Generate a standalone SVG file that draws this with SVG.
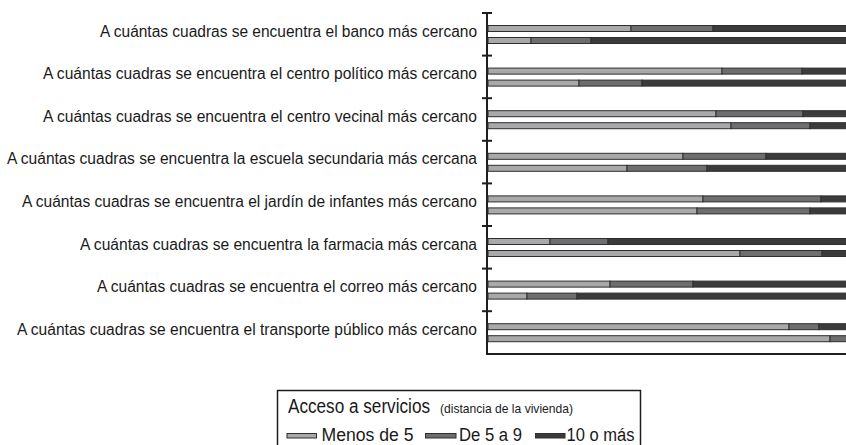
<svg xmlns="http://www.w3.org/2000/svg" width="846" height="445" viewBox="0 0 846 445">
<style>
.lbl{font-family:"Liberation Sans",Arial,sans-serif;font-size:16px;fill:#1a1a1a;text-anchor:end}
.s1{fill:#a9a9ab;stroke:#2e2e2e;stroke-width:1}
.s2{fill:#6e6e71;stroke:#2e2e2e;stroke-width:1}
.s3{fill:#3b3b3b;stroke:#2e2e2e;stroke-width:1}
.ax{stroke:#1e1e1e;stroke-width:2;fill:none}
.lg{font-family:"Liberation Sans",Arial,sans-serif;fill:#1a1a1a}
</style>
<rect width="846" height="445" fill="#ffffff"/>
<g id="axis">
<line class="ax" x1="487" y1="12" x2="487" y2="354"/>
<line class="ax" x1="486" y1="354" x2="846" y2="354"/>
<line class="ax" x1="482" y1="13" x2="492" y2="13"/>
<line class="ax" x1="482" y1="55.6" x2="492" y2="55.6"/>
<line class="ax" x1="482" y1="98.2" x2="492" y2="98.2"/>
<line class="ax" x1="482" y1="140.8" x2="492" y2="140.8"/>
<line class="ax" x1="482" y1="183.4" x2="492" y2="183.4"/>
<line class="ax" x1="482" y1="226" x2="492" y2="226"/>
<line class="ax" x1="482" y1="268.6" x2="492" y2="268.6"/>
<line class="ax" x1="482" y1="311.2" x2="492" y2="311.2"/>
</g>
<g id="banco" transform="translate(0,13)">
<text class="lbl" x="477" y="23.7" textLength="377" lengthAdjust="spacingAndGlyphs">A cuántas cuadras se encuentra el banco más cercano</text>
<rect class="s1" x="488" y="12.5" width="143" height="6"/><rect class="s2" x="631" y="12.5" width="82" height="6"/><rect class="s3" x="713" y="12.5" width="140" height="6"/>
<rect class="s1" x="488" y="24.5" width="43" height="6"/><rect class="s2" x="531" y="24.5" width="60" height="6"/><rect class="s3" x="591" y="24.5" width="262" height="6"/>
</g>
<g id="centro-politico" transform="translate(0,55.6)">
<text class="lbl" x="477" y="23.7" textLength="434" lengthAdjust="spacingAndGlyphs">A cuántas cuadras se encuentra el centro político más cercano</text>
<rect class="s1" x="488" y="12.5" width="234" height="6"/><rect class="s2" x="722" y="12.5" width="80" height="6"/><rect class="s3" x="802" y="12.5" width="51" height="6"/>
<rect class="s1" x="488" y="24.5" width="91" height="6"/><rect class="s2" x="579" y="24.5" width="63" height="6"/><rect class="s3" x="642" y="24.5" width="211" height="6"/>
</g>
<g id="centro-vecinal" transform="translate(0,98.2)">
<text class="lbl" x="477" y="23.7" textLength="434" lengthAdjust="spacingAndGlyphs">A cuántas cuadras se encuentra el centro vecinal más cercano</text>
<rect class="s1" x="488" y="12.5" width="228" height="6"/><rect class="s2" x="716" y="12.5" width="87" height="6"/><rect class="s3" x="803" y="12.5" width="50" height="6"/>
<rect class="s1" x="488" y="24.5" width="243" height="6"/><rect class="s2" x="731" y="24.5" width="79" height="6"/><rect class="s3" x="810" y="24.5" width="43" height="6"/>
</g>
<g id="escuela" transform="translate(0,140.8)">
<text class="lbl" x="477" y="23.7" textLength="470" lengthAdjust="spacingAndGlyphs">A cuántas cuadras se encuentra la escuela secundaria más cercana</text>
<rect class="s1" x="488" y="12.5" width="195" height="6"/><rect class="s2" x="683" y="12.5" width="83" height="6"/><rect class="s3" x="766" y="12.5" width="87" height="6"/>
<rect class="s1" x="488" y="24.5" width="139" height="6"/><rect class="s2" x="627" y="24.5" width="80" height="6"/><rect class="s3" x="707" y="24.5" width="146" height="6"/>
</g>
<g id="jardin" transform="translate(0,183.4)">
<text class="lbl" x="477" y="23.7" textLength="455" lengthAdjust="spacingAndGlyphs">A cuántas cuadras se encuentra el jardín de infantes más cercano</text>
<rect class="s1" x="488" y="12.5" width="215" height="6"/><rect class="s2" x="703" y="12.5" width="118" height="6"/><rect class="s3" x="821" y="12.5" width="32" height="6"/>
<rect class="s1" x="488" y="24.5" width="209" height="6"/><rect class="s2" x="697" y="24.5" width="113" height="6"/><rect class="s3" x="810" y="24.5" width="43" height="6"/>
</g>
<g id="farmacia" transform="translate(0,226)">
<text class="lbl" x="477" y="23.7" textLength="397" lengthAdjust="spacingAndGlyphs">A cuántas cuadras se encuentra la farmacia más cercana</text>
<rect class="s1" x="488" y="12.5" width="62" height="6"/><rect class="s2" x="550" y="12.5" width="58" height="6"/><rect class="s3" x="608" y="12.5" width="245" height="6"/>
<rect class="s1" x="488" y="24.5" width="252" height="6"/><rect class="s2" x="740" y="24.5" width="82" height="6"/><rect class="s3" x="822" y="24.5" width="31" height="6"/>
</g>
<g id="correo" transform="translate(0,268.6)">
<text class="lbl" x="477" y="23.7" textLength="380" lengthAdjust="spacingAndGlyphs">A cuántas cuadras se encuentra el correo más cercano</text>
<rect class="s1" x="488" y="12.5" width="122" height="6"/><rect class="s2" x="610" y="12.5" width="83" height="6"/><rect class="s3" x="693" y="12.5" width="160" height="6"/>
<rect class="s1" x="488" y="24.5" width="39" height="6"/><rect class="s2" x="527" y="24.5" width="50" height="6"/><rect class="s3" x="577" y="24.5" width="276" height="6"/>
</g>
<g id="transporte" transform="translate(0,311.2)">
<text class="lbl" x="477" y="23.7" textLength="460" lengthAdjust="spacingAndGlyphs">A cuántas cuadras se encuentra el transporte público más cercano</text>
<rect class="s1" x="488" y="12.5" width="301" height="6"/><rect class="s2" x="789" y="12.5" width="30" height="6"/><rect class="s3" x="819" y="12.5" width="34" height="6"/>
<rect class="s1" x="488" y="24.5" width="342" height="6"/><rect class="s2" x="830" y="24.5" width="23" height="6"/>
</g>
<g id="legend">
<rect x="277.5" y="390.5" width="363" height="60" fill="#ffffff" stroke="#1e1e1e" stroke-width="1.5"/>
<text class="lg" x="288" y="413" font-size="20" textLength="142" lengthAdjust="spacingAndGlyphs">Acceso a servicios</text>
<text class="lg" x="440" y="413" font-size="13.5" textLength="133" lengthAdjust="spacingAndGlyphs">(distancia de la vivienda)</text>
<rect class="s1" x="287" y="433.5" width="29.5" height="4.5"/>
<text class="lg" x="321.5" y="441" font-size="18" textLength="92" lengthAdjust="spacingAndGlyphs">Menos de 5</text>
<rect class="s2" x="425.5" y="433.5" width="30.5" height="4.5"/>
<text class="lg" x="459" y="441" font-size="18" textLength="63" lengthAdjust="spacingAndGlyphs">De 5 a 9</text>
<rect class="s3" x="535.5" y="433.5" width="29.5" height="4.5"/>
<text class="lg" x="566.5" y="441" font-size="18" textLength="68" lengthAdjust="spacingAndGlyphs">10 o más</text>
</g>
</svg>
